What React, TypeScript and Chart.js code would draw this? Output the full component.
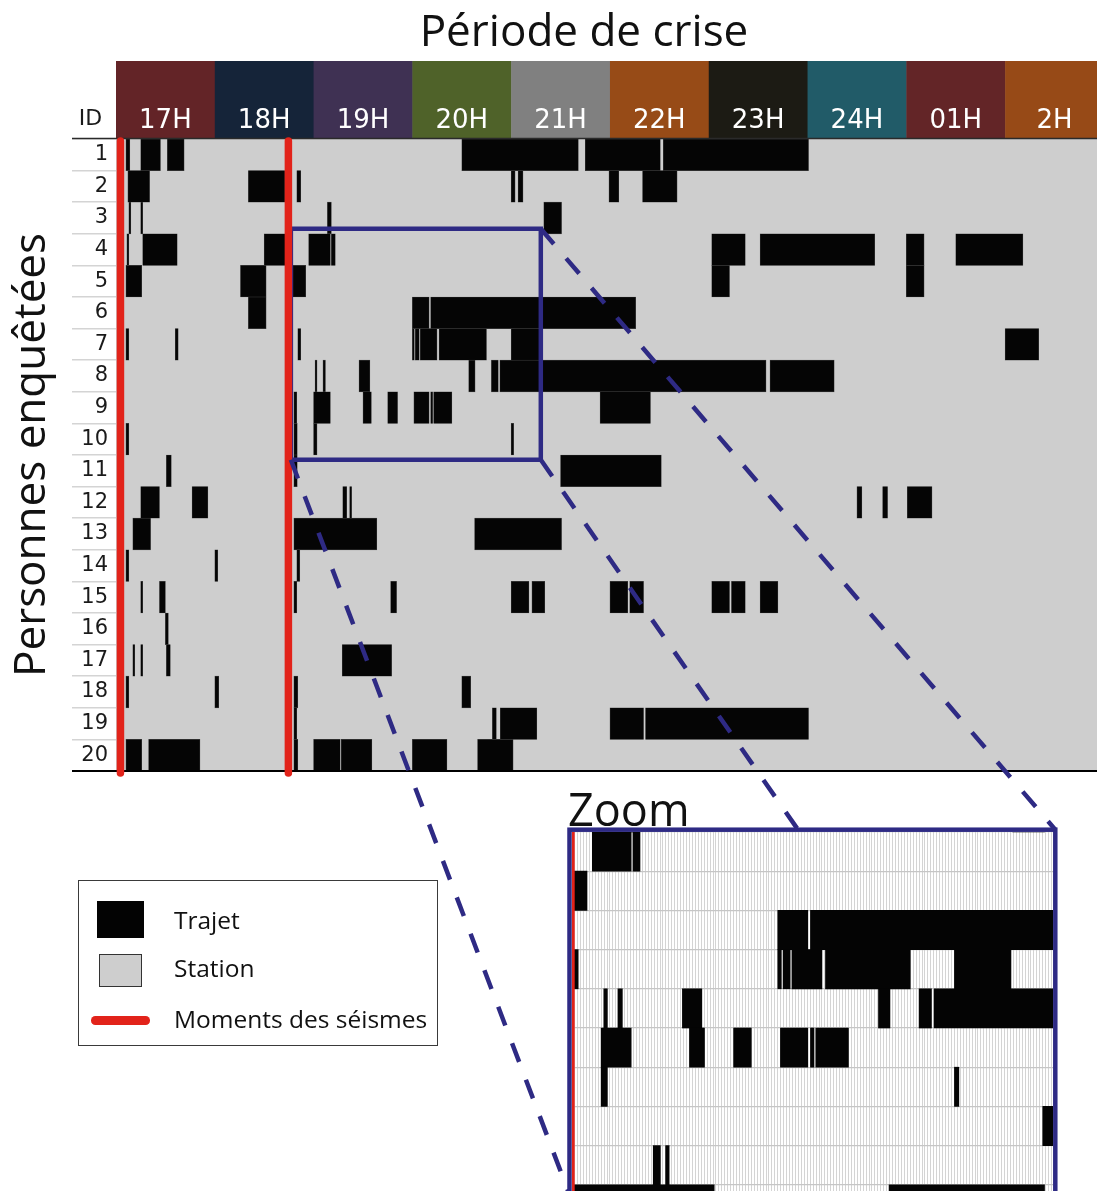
import React, { useEffect, useRef } from 'react';
import { Chart, registerables } from 'chart.js';

Chart.register(...registerables);

// ---------------- DATA ----------------
const personIds = ['1', '2', '3', '4', '5', '6', '7', '8', '9', '10', '11', '12', '13', '14', '15', '16', '17', '18', '19', '20'];

const hourLabels = ['17H', '18H', '19H', '20H', '21H', '22H', '23H', '24H', '01H', '2H'];
const hourColors = ['#632427', '#152439', '#3f3153', '#4f6229', '#808080', '#974b17', '#1c1b14', '#215b68', '#632527', '#974a17'];
const firstHour = 17;
const lastHour = 26.93;

// Moments des séismes (hours, 17 = 17:00)
const quakeTimes = [17.045, 18.745];

// Trajets (start hour, end hour) for each person enquêtée
const trips1 = [[17.10, 17.14], [17.25, 17.45], [17.52, 17.69], [20.50, 21.68], [21.75, 22.51], [22.54, 24.01]];
const trips2 = [[17.12, 17.34], [18.34, 18.71], [18.83, 18.87], [21.00, 21.04], [21.07, 21.12], [21.99, 22.09], [22.33, 22.68]];
const trips3 = [[17.13, 17.15], [17.25, 17.27], [19.14, 19.18], [21.33, 21.51]];
const trips4 = [[17.11, 17.13], [17.27, 17.62], [18.50, 18.74], [18.95, 19.17], [19.18, 19.22], [23.03, 23.37], [23.52, 24.68], [25.00, 25.18], [25.50, 26.18]];
const trips5 = [[17.10, 17.26], [18.26, 18.52], [18.79, 18.92], [23.03, 23.21], [25.00, 25.18]];
const trips6 = [[18.34, 18.52], [20.00, 20.17], [20.185, 22.26]];
const trips7 = [[17.10, 17.13], [17.60, 17.63], [18.84, 18.87], [20.00, 20.02], [20.03, 20.07], [20.08, 20.25], [20.27, 20.75], [21.00, 21.32], [26.00, 26.34]];
const trips8 = [[19.015, 19.035], [19.095, 19.12], [19.46, 19.57], [20.57, 20.635], [20.80, 20.87], [20.885, 23.58], [23.62, 24.27]];
const trips9 = [[18.80, 18.83], [19.00, 19.17], [19.50, 19.585], [19.75, 19.85], [20.015, 20.17], [20.185, 20.205], [20.215, 20.40], [21.90, 22.41]];
const trips10 = [[17.10, 17.13], [18.80, 18.835], [19.00, 19.035], [21.00, 21.025]];
const trips11 = [[17.51, 17.56], [18.80, 18.835], [21.50, 22.52]];
const trips12 = [[17.25, 17.44], [17.77, 17.93], [19.295, 19.335], [19.365, 19.385], [24.50, 24.55], [24.76, 24.81], [25.01, 25.26]];
const trips13 = [[17.17, 17.35], [18.80, 19.64], [20.63, 21.51]];
const trips14 = [[17.10, 17.13], [18.00, 18.03], [18.83, 18.86]];
const trips15 = [[17.25, 17.27], [17.44, 17.50], [18.80, 18.83], [19.78, 19.84], [21.00, 21.18], [21.21, 21.34], [22.00, 22.18], [22.20, 22.34], [23.03, 23.21], [23.23, 23.37], [23.52, 23.70]];
const trips16 = [[17.50, 17.53]];
const trips17 = [[17.17, 17.19], [17.25, 17.27], [17.51, 17.55], [19.29, 19.79]];
const trips18 = [[17.10, 17.13], [18.00, 18.04], [18.80, 18.84], [20.50, 20.59]];
const trips19 = [[18.80, 18.83], [20.81, 20.85], [20.89, 21.26], [22.00, 22.34], [22.36, 24.01]];
const trips20 = [[17.10, 17.26], [17.33, 17.85], [18.80, 18.84], [19.00, 19.27], [19.28, 19.59], [20.00, 20.35], [20.66, 21.02]];

const tripsByPerson = [trips1, trips2, trips3, trips4, trips5, trips6, trips7, trips8, trips9, trips10, trips11, trips12, trips13, trips14, trips15, trips16, trips17, trips18, trips19, trips20];

// Zoom window (hours and rows, row edges counted from the top: 0 = top of person 1)
const zoomRectHours = [18.77, 21.3];
const zoomRectRowEdges = [2.84, 10.15];
// Zoom panel extent
const zoomHours = [18.835, 21.558];
const zoomFirstPerson = '4';
const zoomLastPerson = '13';

// ---------------- STYLE ----------------
const STATION = '#cecece';
const TRAJET = '#050505';
const QUAKE = '#e2231a';
const BLUE = '#2e2a84';
const HEADER_TOP = 61;
const ZOOM_FRAME = { left: 569.5, top: 829.7, right: 1055.3, bottom: 1260 };

const tripData = tripsByPerson.flatMap((trips, i) => trips.map(([s, e]) => ({ y: personIds[i], x: [s, e] })));

function line(ctx: any, x0: number, y0: number, x1: number, y1: number) {
  ctx.beginPath();
  ctx.moveTo(x0, y0);
  ctx.lineTo(x1, y1);
  ctx.stroke();
}

function makeDeco(mode: 'main' | 'zoom') {
  return {
    id: 'deco_' + mode,
    beforeDraw(chart: any) {
      const { ctx, chartArea: a, scales } = chart;
      const x = scales.x;
      ctx.save();
      if (mode === 'main') {
        ctx.fillStyle = STATION;
        ctx.fillRect(a.left, a.top, a.right - a.left, a.bottom - a.top);
        hourLabels.forEach((_, i) => {
          const x0 = x.getPixelForValue(firstHour + i);
          const x1 = Math.min(x.getPixelForValue(firstHour + i + 1), a.right);
          ctx.fillStyle = hourColors[i];
          ctx.fillRect(x0, HEADER_TOP, x1 - x0 + 0.5, a.top - HEADER_TOP);
        });
        ctx.fillStyle = '#1a1a1a';
        ctx.font = '22px "DejaVu Sans"';
        ctx.textAlign = 'center';
        ctx.textBaseline = 'middle';
        ctx.fillText('ID', 90.5, 119);
      }
      ctx.restore();
    },
    afterDraw(chart: any) {
      const { ctx, chartArea: a, scales } = chart;
      const x = scales.x;
      const y = scales.y;
      ctx.save();
      if (mode === 'main') {
        // frame lines
        ctx.strokeStyle = '#2a2a2a';
        ctx.lineWidth = 1.6;
        line(ctx, 72, a.top - 0.5, a.right, a.top - 0.5);
        ctx.strokeStyle = '#000';
        ctx.lineWidth = 2;
        line(ctx, 72, a.bottom, a.right, a.bottom);

        // zoom rectangle
        const rx0 = x.getPixelForValue(zoomRectHours[0]);
        const rx1 = x.getPixelForValue(zoomRectHours[1]);
        const ry0 = y.getPixelForValue(zoomRectRowEdges[0] - 0.5);
        const ry1 = y.getPixelForValue(zoomRectRowEdges[1] - 0.5);
        ctx.strokeStyle = BLUE;
        ctx.lineWidth = 4.5;
        ctx.strokeRect(rx0, ry0, rx1 - rx0, ry1 - ry0);

        // earthquakes
        ctx.strokeStyle = QUAKE;
        ctx.lineWidth = 7.5;
        ctx.lineCap = 'round';
        quakeTimes.forEach((t) => {
          const px = x.getPixelForValue(t);
          line(ctx, px, a.top + 2, px, a.bottom + 2);
        });

        // zoom frame + dashed links
        ctx.lineCap = 'butt';
        ctx.strokeStyle = BLUE;
        ctx.lineWidth = 4.5;
        ctx.strokeRect(ZOOM_FRAME.left, ZOOM_FRAME.top, ZOOM_FRAME.right - ZOOM_FRAME.left, ZOOM_FRAME.bottom - ZOOM_FRAME.top);
        ctx.setLineDash([20, 19]);
        line(ctx, rx1, ry0, ZOOM_FRAME.right, ZOOM_FRAME.top);
        line(ctx, rx1, ry1, 798, ZOOM_FRAME.top);
        line(ctx, rx0, ry1, ZOOM_FRAME.left + 2, 1200);
      } else {
        ctx.strokeStyle = QUAKE;
        ctx.lineWidth = 2.5;
        quakeTimes.forEach((t) => {
          let px = x.getPixelForValue(t);
          px = Math.max(a.left + 1.2, Math.min(a.right, px));
          line(ctx, px, a.top, px, a.bottom);
        });
      }
      ctx.restore();
    },
  };
}

export default function App() {
  const mainRef = useRef<HTMLCanvasElement | null>(null);
  const zoomRef = useRef<HTMLCanvasElement | null>(null);

  useEffect(() => {
    const main = new Chart(mainRef.current as any, {
      type: 'bar',
      data: {
        labels: personIds,
        datasets: [
          {
            label: 'Trajet',
            data: tripData as any,
            backgroundColor: TRAJET,
            borderColor: '#3c3c3c',
            borderWidth: 0.6,
            borderSkipped: false,
            barPercentage: 1,
            categoryPercentage: 1,
          },
        ],
      },
      options: {
        indexAxis: 'y',
        animation: false,
        responsive: false,
        devicePixelRatio: 1,
        events: [],
        layout: { padding: { top: 0, left: 0, right: 0, bottom: 1191 - 771 } },
        plugins: { legend: { display: false }, tooltip: { enabled: false }, title: { display: false } },
        scales: {
          x: {
            type: 'linear',
            position: 'top',
            min: firstHour,
            max: lastHour,
            grid: { display: false },
            border: { display: false },
            afterBuildTicks: (s: any) => {
              s.ticks = hourLabels.map((_, i) => ({ value: firstHour + 0.5 + i }));
            },
            afterFit: (s: any) => {
              s.height = 139;
            },
            ticks: {
              autoSkip: false,
              maxRotation: 0,
              padding: -6,
              color: '#ffffff',
              font: { family: '"DejaVu Sans"', size: 26 },
              callback: (_v: any, i: number) => hourLabels[i],
            },
          },
          y: {
            type: 'category',
            position: 'left',
            offset: true,
            grid: { offset: true, drawOnChartArea: false, drawTicks: true, tickLength: 44, color: '#d4d4d4', lineWidth: 1.5 },
            border: { display: false },
            afterFit: (s: any) => {
              s.width = 116;
            },
            ticks: { padding: -36, color: '#1a1a1a', font: { family: '"DejaVu Sans"', size: 21 } },
            title: {
              display: true,
              text: 'Personnes enquêtées',
              color: '#111111',
              font: { family: '"Open Sans"', size: 44 },
              padding: { top: 6, bottom: 0 },
            },
          },
        },
      } as any,
      plugins: [makeDeco('main')],
    });

    const zoom = new Chart(zoomRef.current as any, {
      type: 'bar',
      data: {
        labels: personIds,
        datasets: [
          {
            label: 'Trajet',
            data: tripData as any,
            backgroundColor: '#040404',
            borderWidth: 0,
            barPercentage: 1,
            categoryPercentage: 1,
          },
        ],
      },
      options: {
        indexAxis: 'y',
        animation: false,
        responsive: false,
        devicePixelRatio: 1,
        events: [],
        layout: { padding: 0 },
        plugins: { legend: { display: false }, tooltip: { enabled: false } },
        scales: {
          x: {
            type: 'linear',
            position: 'bottom',
            min: zoomHours[0],
            max: zoomHours[1],
            ticks: { display: false },
            grid: { drawTicks: false, color: 'rgba(0,0,0,0.17)', lineWidth: 1 },
            border: { display: false },
            afterBuildTicks: (s: any) => {
              const ticks: any[] = [];
              for (let m = Math.ceil(zoomHours[0] * 60); m <= Math.floor(zoomHours[1] * 60); m++) ticks.push({ value: m / 60 });
              s.ticks = ticks;
            },
            afterFit: (s: any) => {
              s.height = 0;
            },
          },
          y: {
            type: 'category',
            min: zoomFirstPerson,
            max: zoomLastPerson,
            offset: true,
            ticks: { display: false },
            grid: { offset: true, drawTicks: false, color: '#c6c6c6', lineWidth: 1.2 },
            border: { display: false },
            afterFit: (s: any) => {
              s.width = 0;
            },
          },
        },
      } as any,
      plugins: [makeDeco('zoom')],
    });

    return () => {
      main.destroy();
      zoom.destroy();
    };
  }, []);

  const sans = '"Open Sans", "Noto Sans", sans-serif';
  const legendText = (top: number, text: string) => (
    <div style={{ position: 'absolute', left: 174, top, fontFamily: sans, fontSize: 24.5, lineHeight: 1, color: '#111', whiteSpace: 'nowrap' }}>{text}</div>
  );

  return (
    <div style={{ position: 'absolute', left: 0, top: 0, width: 1097, height: 1191, overflow: 'hidden', background: '#ffffff' }}>
      <canvas ref={mainRef} width={1097} height={1191} style={{ position: 'absolute', left: 0, top: 0, width: 1097, height: 1191, display: 'block' }} />
      <canvas ref={zoomRef} width={481} height={392} style={{ position: 'absolute', left: 572, top: 832, width: 481, height: 392, display: 'block' }} />
      <div style={{ position: 'absolute', left: 384, top: 7, width: 400, textAlign: 'center', fontFamily: sans, fontSize: 44, lineHeight: 1, color: '#111', whiteSpace: 'nowrap' }}>Période de crise</div>
      <div style={{ position: 'absolute', left: 568, top: 786, fontFamily: sans, fontSize: 45, lineHeight: 1, color: '#111', whiteSpace: 'nowrap' }}>Zoom</div>
      {/* Legend */}
      <div style={{ position: 'absolute', left: 77.5, top: 880, width: 360, height: 166, border: '1.3px solid #3a3a3a', boxSizing: 'border-box' }} />
      <div style={{ position: 'absolute', left: 97, top: 901, width: 47, height: 37, background: '#030303' }} />
      <div style={{ position: 'absolute', left: 99, top: 954, width: 43, height: 33, background: STATION, border: '1.5px solid #333', boxSizing: 'border-box' }} />
      <div style={{ position: 'absolute', left: 91, top: 1016, width: 59, height: 8.6, borderRadius: 4.3, background: QUAKE }} />
      {legendText(908, 'Trajet')}
      {legendText(956, 'Station')}
      {legendText(1007, 'Moments des séismes')}
    </div>
  );
}
